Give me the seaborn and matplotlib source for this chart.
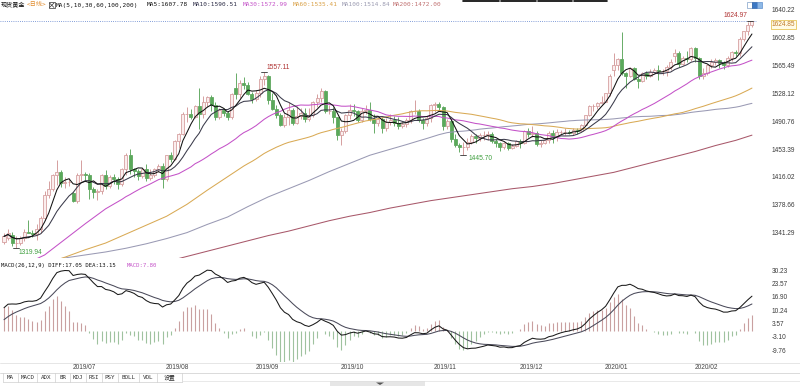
import numpy as np
import pandas as pd
import matplotlib
matplotlib.use("Agg")
import matplotlib.pyplot as plt
from matplotlib.patches import Rectangle, Polygon
from matplotlib.lines import Line2D
from matplotlib.transforms import blended_transform_factory
import seaborn as sns

sns.set_theme(style="white")
plt.rcParams['font.family'] = ['DejaVu Sans', 'Noto Sans CJK SC']

# ---------------------------------------------------------------- data
trade_days = pd.bdate_range("2019-06-06", "2020-02-21")
trade_days = trade_days[~trade_days.isin(pd.to_datetime(["2019-12-25", "2020-01-01"]))]

open_ = [
    1328, 1334, 1338, 1327, 1327, 1334, 1342, 1341, 1339, 1346,
    1360, 1391, 1400, 1418, 1423, 1408, 1409, 1394, 1384, 1418,
    1420, 1419, 1400, 1396, 1397, 1419, 1404, 1416, 1413, 1406,
    1427, 1446, 1426, 1424, 1417, 1426, 1414, 1419, 1426, 1430,
    1413, 1445, 1440, 1464, 1474, 1500, 1500, 1497, 1511, 1501,
    1516, 1523, 1513, 1497, 1506, 1502, 1497, 1536, 1527, 1542,
    1540, 1527, 1520, 1529, 1547, 1552, 1519, 1507, 1499, 1486,
    1497, 1506, 1488, 1498, 1502, 1494, 1499, 1516, 1522, 1531,
    1504, 1504, 1497, 1472, 1478, 1499, 1506, 1504, 1493, 1505,
    1506, 1494, 1488, 1494, 1481, 1490, 1492, 1489, 1484, 1487,
    1492, 1504, 1505, 1493, 1488, 1495, 1513, 1514, 1510, 1484,
    1491, 1467, 1459, 1456, 1456, 1463, 1471, 1468, 1472, 1472,
    1474, 1464, 1462, 1456, 1462, 1455, 1458, 1464, 1462, 1477,
    1474, 1475, 1460, 1462, 1465, 1475, 1470, 1476, 1476, 1476,
    1475, 1479, 1478, 1486, 1499, 1511, 1511, 1515, 1517, 1528,
    1560, 1566, 1574, 1556, 1552, 1562, 1548, 1545, 1556, 1552,
    1557, 1560, 1558, 1558, 1563, 1578, 1582, 1567, 1576, 1575,
    1589, 1576, 1552, 1556, 1566, 1570, 1573, 1569, 1566, 1576,
    1584, 1582, 1601, 1612, 1620]

high_ = [
    1341, 1346, 1342, 1336, 1337, 1346, 1358, 1345, 1353, 1363,
    1397, 1411, 1420, 1439, 1425, 1416, 1414, 1396, 1421, 1438,
    1422, 1421, 1402, 1400, 1420, 1425, 1418, 1420, 1416, 1428,
    1448, 1453, 1428, 1426, 1428, 1433, 1426, 1428, 1433, 1434,
    1446, 1449, 1465, 1475, 1503, 1510, 1507, 1512, 1535, 1524,
    1525, 1526, 1516, 1509, 1509, 1504, 1528, 1555, 1546, 1550,
    1543, 1530, 1533, 1552, 1557.11, 1553, 1529, 1512, 1502, 1500,
    1517, 1508, 1511, 1508, 1508, 1508, 1518, 1527, 1535, 1533,
    1513, 1510, 1497, 1482, 1500, 1514, 1514, 1506, 1508, 1513,
    1516, 1500, 1497, 1496, 1495, 1500, 1498, 1496, 1490, 1495,
    1506, 1519, 1507, 1495, 1498, 1514, 1516, 1517, 1511, 1494,
    1494, 1473, 1462, 1463, 1468, 1474, 1474, 1475, 1477, 1478,
    1476, 1467, 1463, 1463, 1463, 1460, 1466, 1467, 1479, 1482,
    1484, 1477, 1466, 1467, 1477, 1479, 1480, 1479, 1481, 1479,
    1481, 1482, 1487, 1499, 1512, 1514, 1516, 1524, 1529, 1554,
    1582, 1576, 1611, 1557, 1563, 1563, 1552, 1557, 1558, 1561,
    1562, 1566, 1561, 1566, 1574, 1588, 1585, 1578, 1585, 1590,
    1591, 1577, 1562, 1568, 1574, 1576, 1575, 1572, 1579, 1585,
    1586, 1604, 1612, 1624, 1624.97]

low_ = [
    1326, 1331, 1323, 1319.94, 1324, 1330, 1340, 1335, 1331, 1341,
    1358, 1387, 1397, 1405, 1402, 1401, 1403, 1382, 1381, 1411,
    1412, 1386, 1388, 1385, 1393, 1400, 1401, 1406, 1400, 1403,
    1419, 1420, 1416, 1412, 1414, 1411, 1412, 1416, 1422, 1401,
    1410, 1436, 1438, 1455, 1472, 1490, 1494, 1495, 1480, 1495,
    1510, 1504, 1492, 1494, 1498, 1492, 1494, 1520, 1522, 1534,
    1526, 1515, 1518, 1523, 1540, 1514, 1506, 1495, 1484, 1483,
    1485, 1485, 1487, 1494, 1490, 1491, 1496, 1510, 1516, 1502,
    1501, 1488, 1465, 1459, 1475, 1494, 1498, 1490, 1490, 1500,
    1491, 1475, 1484, 1475, 1478, 1485, 1484, 1480, 1481, 1483,
    1489, 1500, 1490, 1480, 1484, 1490, 1503, 1505, 1479, 1480,
    1463, 1456, 1449, 1445.70, 1452, 1460, 1462, 1464, 1466, 1466,
    1461, 1456, 1451, 1453, 1452, 1453, 1456, 1455, 1460, 1470,
    1470, 1458, 1456, 1460, 1462, 1462, 1464, 1473, 1472, 1473,
    1472, 1473, 1477, 1485, 1498, 1505, 1507, 1514, 1516, 1525,
    1551, 1560, 1553, 1536, 1550, 1546, 1535, 1543, 1548, 1550,
    1555, 1546, 1553, 1551, 1560, 1571, 1563, 1566, 1570, 1572,
    1570, 1548, 1547, 1553, 1562, 1566, 1562, 1561, 1564, 1572,
    1578, 1579, 1598, 1606, 1617]

close_ = [
    1336, 1341, 1327, 1327, 1334, 1342, 1341, 1339, 1346, 1360,
    1391, 1400, 1418, 1423, 1408, 1409, 1409, 1384, 1418, 1420,
    1419, 1400, 1396, 1397, 1419, 1404, 1416, 1413, 1406, 1427,
    1446, 1426, 1424, 1417, 1426, 1414, 1419, 1426, 1430, 1413,
    1445, 1440, 1464, 1474, 1500, 1500, 1497, 1511, 1501, 1516,
    1523, 1513, 1497, 1506, 1502, 1497, 1527, 1527, 1542, 1540,
    1527, 1520, 1529, 1547, 1552, 1519, 1507, 1499, 1486, 1497,
    1506, 1488, 1498, 1502, 1494, 1499, 1516, 1522, 1531, 1504,
    1504, 1497, 1472, 1478, 1499, 1506, 1504, 1493, 1505, 1506,
    1494, 1488, 1494, 1481, 1490, 1492, 1489, 1484, 1487, 1492,
    1504, 1505, 1493, 1488, 1495, 1513, 1514, 1510, 1484, 1491,
    1467, 1459, 1456, 1456, 1463, 1471, 1468, 1472, 1472, 1474,
    1464, 1462, 1456, 1462, 1455, 1458, 1464, 1462, 1477, 1474,
    1475, 1460, 1462, 1465, 1475, 1470, 1476, 1476, 1476, 1475,
    1479, 1478, 1486, 1499, 1511, 1511, 1515, 1517, 1528, 1552,
    1566, 1574, 1556, 1552, 1562, 1548, 1545, 1556, 1552, 1557,
    1560, 1558, 1558, 1563, 1571, 1582, 1567, 1576, 1575, 1589,
    1576, 1552, 1556, 1566, 1570, 1573, 1569, 1566, 1576, 1584,
    1582, 1601, 1612, 1620, 1624.85]

# long moving averages whose early values depend on bars before the chart:
# values, one every 5 bars
ma30_lead = [1289, 1298, 1311, 1332, 1353, 1373]
ma60_lead = [1292, 1295, 1299, 1308, 1318, 1327, 1339, 1351, 1363, 1379, 1398, 1416]
ma100_lead = [1298, 1300, 1302, 1307, 1311, 1315, 1320, 1326, 1333, 1341,
              1352, 1362, 1376, 1389, 1400, 1411, 1423, 1434, 1445, 1453]
ma200_pts = [1266, 1269, 1272, 1276, 1281, 1286, 1291, 1296, 1302, 1309,
             1316, 1323, 1330, 1337, 1343, 1350, 1357, 1363, 1368, 1374,
             1379, 1384, 1388, 1392, 1396, 1400, 1403, 1407, 1412, 1417,
             1422, 1429, 1436, 1443, 1450, 1458, 1465, 1472]
macd_seed = {"ema12": 1303.4, "ema26": 1293.9, "dea": 3.9}

price_ticks = [1640.22, 1602.85, 1565.49, 1528.12, 1490.76, 1453.39, 1416.02, 1378.66, 1341.29]
macd_ticks = [30.23, 23.57, 16.90, 10.24, 3.57, -3.10, -9.76]
month_labels = ["2019/07", "2019/08", "2019/09", "2019/10", "2019/11", "2019/12", "2020/01", "2020/02"]
tab_labels = ["MA", "MACD", "ADX", "BR", "KDJ", "RSI", "PSY", "BOLL", "VOL", "设置"]
last_price = 1624.85

# ---------------------------------------------------------------- derived
n = len(close_)
o = np.array(open_, float); c = np.array(close_, float)
h = np.maximum(np.array(high_, float), np.maximum(o, c))
l = np.minimum(np.array(low_, float), np.minimum(o, c))
xs = np.arange(n)
cs = pd.Series(c)
ma5 = cs.rolling(5, min_periods=1).mean()
ma10 = cs.rolling(10, min_periods=1).mean()


def ma_line(window, lead):
    lx = np.arange(len(lead)) * 5
    comp = cs.rolling(window).mean().values
    x = np.concatenate([lx, xs[window - 1:]])
    y = np.concatenate([lead, comp[window - 1:]])
    return x, y


ma30x, ma30y = ma_line(30, ma30_lead)
ma60x, ma60y = ma_line(60, ma60_lead)
ma100x, ma100y = ma_line(100, ma100_lead)
ma200x = np.array(list(range(0, n, 5)) + [n - 1])
ma200y = np.array(ma200_pts)

e12, e26, dea = macd_seed["ema12"], macd_seed["ema26"], macd_seed["dea"]
diff_l, dea_l = [], []
for v in c:
    e12 += 2 / 13 * (v - e12)
    e26 += 2 / 27 * (v - e26)
    d = e12 - e26
    dea += 0.2 * (d - dea)
    diff_l.append(d); dea_l.append(dea)
diff_a = np.array(diff_l); dea_a = np.array(dea_l)
hist = 2 * (diff_a - dea_a)

# ---------------------------------------------------------------- figure
W, H = 800, 386
fig = plt.figure(figsize=(W / 100, H / 100), dpi=100)
fig.patch.set_facecolor("white")


def fx(px):
    return px / W


def fy(py):
    return 1 - py / H


ax1 = fig.add_axes([0, fy(258), fx(757), 258 / H])
ax2 = fig.add_axes([0, fy(362), fx(757), 104 / H])

px_per_bar = 4.065
xlim = (-4 / px_per_bar, 753 / px_per_bar)
ppx = 37.365 / 27.8
ax1.set_xlim(*xlim)
ax1.set_ylim(1640.22 - 248 * ppx, 1640.22 + 10 * ppx)
ax2.set_xlim(*xlim)
ax2.set_ylim(-15.75, 36.25)

for ax in (ax1, ax2):
    ax.set_facecolor("white")
    for s in ax.spines.values():
        s.set_visible(False)
    ax.set_xticks([])
    ax.yaxis.tick_right()
    ax.tick_params(axis="y", length=0, pad=10.8, labelsize=4.7, labelcolor="#3a3a3a")
    ax.grid(False)

ax1.set_yticks(price_ticks)
ax1.set_yticklabels([f"{v:.2f}" for v in price_ticks], family="Liberation Sans")
ax2.set_yticks(macd_ticks)
ax2.set_yticklabels([f"{v:.2f}" for v in macd_ticks], family="Liberation Sans")

# candles
up_edge, up_face = "#cf8f8f", "#fbeeee"
dn_edge, dn_face = "#4f9f4f", "#5aa95a"
bw = 0.74
for i in range(n):
    lo_b, hi_b = min(o[i], c[i]), max(o[i], c[i])
    if hi_b - lo_b < 0.7:
        hi_b = lo_b + 0.7
    up = c[i] >= o[i]
    ec = up_edge if up else dn_edge
    fc = up_face if up else dn_face
    ax1.plot([i, i], [l[i], lo_b], color=ec, lw=0.6, zorder=2, solid_capstyle="butt")
    ax1.plot([i, i], [hi_b, h[i]], color=ec, lw=0.6, zorder=2, solid_capstyle="butt")
    ax1.add_patch(Rectangle((i - bw / 2, lo_b), bw, hi_b - lo_b, facecolor=fc,
                            edgecolor=ec, lw=0.5, zorder=3))

# moving averages
lines = [
    (ma200x, ma200y, "#a8586a"),
    (ma100x, ma100y, "#9a9ab4"),
    (ma60x, ma60y, "#d9aa55"),
    (ma30x, ma30y, "#c452c8"),
    (xs, ma10.values, "#3a3a4a"),
    (xs, ma5.values, "#111111"),
]
for x, y, col in lines:
    sns.lineplot(x=x, y=y, ax=ax1, color=col, lw=0.75, estimator=None, legend=False, zorder=4)

ax1.axhline(last_price, color="#5c7fcc", lw=0.6, ls=(0, (1, 1.6)), zorder=1)

# extreme markers
i_hi = int(np.argmax(h)); i_lo = int(np.argmin(l))
ax1.plot([i_hi - 1.2, i_hi + 0.3], [h[i_hi]] * 2, color="#333333", lw=0.6, zorder=5)
ax1.annotate(f"{h[i_hi]:.2f}", (i_hi, h[i_hi]), xytext=(-3.6, 3.9), textcoords="offset points",
             ha="right", va="center", fontsize=4.8, color="#b03434", family="Liberation Sans")
i_h2 = 64
ax1.plot([i_h2 - 0.7, i_h2 + 0.7], [h[i_h2]] * 2, color="#333333", lw=0.6, zorder=5)
ax1.annotate(f"{h[i_h2]:.2f}", (i_h2, h[i_h2]), xytext=(1.4, 3.4), textcoords="offset points",
             ha="left", va="center", fontsize=4.8, color="#b03434", family="Liberation Sans")
i_l2 = 113
ax1.plot([i_l2 - 0.7, i_l2 + 0.7], [l[i_l2]] * 2, color="#333333", lw=0.6, zorder=5)
ax1.annotate(f"{l[i_l2]:.2f}", (i_l2, l[i_l2]), xytext=(3.6, -2.4), textcoords="offset points",
             ha="left", va="center", fontsize=4.8, color="#3f9f3f", family="Liberation Sans")
ax1.plot([i_lo - 0.7, i_lo + 0.7], [l[i_lo]] * 2, color="#333333", lw=0.6, zorder=5)
ax1.annotate(f"{l[i_lo]:.2f}", (i_lo, l[i_lo]), xytext=(1.4, -2.9), textcoords="offset points",
             ha="left", va="center", fontsize=4.8, color="#3f9f3f", family="Liberation Sans")

# MACD
pos = hist >= 0
ax2.vlines(xs[pos], 0, hist[pos], color="#c9a0a0", lw=0.8)
ax2.vlines(xs[~pos], 0, hist[~pos], color="#9fc29f", lw=0.8)
sns.lineplot(x=xs, y=dea_a, ax=ax2, color="#4a4a5a", lw=0.75, estimator=None, legend=False)
sns.lineplot(x=xs, y=diff_a, ax=ax2, color="#1a1a1a", lw=0.75, estimator=None, legend=False)

# month labels
months = pd.Series(trade_days.to_period("M").astype(str))
trans = blended_transform_factory(ax2.transData, ax2.transAxes)
for lab in month_labels:
    key = lab.replace("/", "-")
    idx = int(months[months == key].index[0])
    ax2.text(idx - 0.2, -0.05, lab, transform=trans, ha="left", va="center",
             fontsize=4.7, color="#444444", family="Liberation Sans", clip_on=False)

# current price box
fig.text(fx(772), fy(24.5), f"{last_price:.2f}", fontsize=4.7, color="#c07a2a",
         family="Liberation Sans", ha="left", va="center",
         bbox=dict(boxstyle="square,pad=0.15", facecolor="#fffbe6", edgecolor="#e7c55a", lw=0.6))

# top legend
mono = ["DejaVu Sans Mono", "Noto Sans CJK SC"]
ty = fy(5)
fig.text(fx(1), ty, "现货黄金", fontsize=4.4, color="#111111", family=mono, va="center")
fig.text(fx(27), ty, "<日线>", fontsize=4.4, color="#e08a2a", family=mono, va="center")
fig.patches.append(Rectangle((fx(49), fy(8)), fx(5.5), 5.5 / H, transform=fig.transFigure,
                             facecolor="white", edgecolor="#333333", lw=0.5))
fig.lines.append(Line2D([fx(49.5), fx(54)], [fy(7.5), fy(3)], transform=fig.transFigure, color="#333333", lw=0.5))
fig.lines.append(Line2D([fx(49.5), fx(54)], [fy(3), fy(7.5)], transform=fig.transFigure, color="#333333", lw=0.5))
legend_items = [
    (56, "MA(5,10,30,60,100,200)", "#111111"),
    (147, "MA5:1607.78", "#111111"),
    (193, "MA10:1590.51", "#2a2a44"),
    (243, "MA30:1572.99", "#c452c8"),
    (293, "MA60:1535.41", "#d9a045"),
    (342, "MA100:1514.84", "#9a9ab0"),
    (393, "MA200:1472.00", "#c07070"),
]
for xp, txt, col in legend_items:
    fig.text(fx(xp), ty, txt, fontsize=4.4, color=col, family=mono, va="center")

# MACD legend
fig.text(fx(1), fy(265.5), "MACD(26,12,9) DIFF:17.05 DEA:13.15", fontsize=4.1,
         color="#111111", family=mono, va="center")
fig.text(fx(127), fy(265.5), "MACD:7.80", fontsize=4.1, color="#c452c8", family=mono, va="center")

# top right icons and top bars
for k, (fc, ec) in enumerate([("white", "#7f9fc8"), ("#3b78c4", "#2f64a8"), ("#8db8e6", "#5f8fcf")]):
    fig.patches.append(Rectangle((fx(747 + 5.2 * k), fy(8)), fx(4.6), 6 / H, transform=fig.transFigure,
                                 facecolor=fc, edgecolor=ec, lw=0.5))
for a, b in [(463, 499), (501, 536), (538, 572), (574, 607)]:
    fig.lines.append(Line2D([fx(a), fx(b)], [fy(0.6), fy(0.6)], transform=fig.transFigure,
                            color="black", lw=1.2))

# bottom separators and tab bar
fig.lines.append(Line2D([0, 1], [fy(363), fy(363)], transform=fig.transFigure, color="#e2e2e2", lw=0.6))
fig.lines.append(Line2D([0, 1], [fy(373), fy(373)], transform=fig.transFigure, color="#d4d4d4", lw=0.6))
seps = [3, 18, 37, 55, 70, 86, 102, 118, 139, 157, 182]
for s in seps:
    fig.lines.append(Line2D([fx(s), fx(s)], [fy(373), fy(382)], transform=fig.transFigure,
                            color="#cfcfcf", lw=0.5))
fig.lines.append(Line2D([fx(3), fx(182)], [fy(382), fy(382)], transform=fig.transFigure, color="#cfcfcf", lw=0.5))
for k, lab in enumerate(tab_labels):
    cx = (seps[k] + seps[k + 1]) / 2
    fig.text(fx(cx), fy(377.5), lab, fontsize=4.2, color="#333333", ha="center", va="center",
             family=["DejaVu Sans Mono", "Noto Sans CJK SC"])
fig.lines.append(Line2D([fx(182), 1], [fy(381), fy(381)], transform=fig.transFigure, color="#e0e0e0", lw=0.5))
fig.patches.append(Rectangle((fx(330), fy(386)), fx(95), 5 / H, transform=fig.transFigure,
                             facecolor="#e6e6e6", edgecolor="none"))
fig.patches.append(Polygon([[fx(376), fy(382.5)], [fx(384), fy(382.5)], [fx(380), fy(385)]],
                           closed=True, transform=fig.transFigure, facecolor="#555555", edgecolor="none"))

fig.savefig("out.png", dpi=100, facecolor="white")
